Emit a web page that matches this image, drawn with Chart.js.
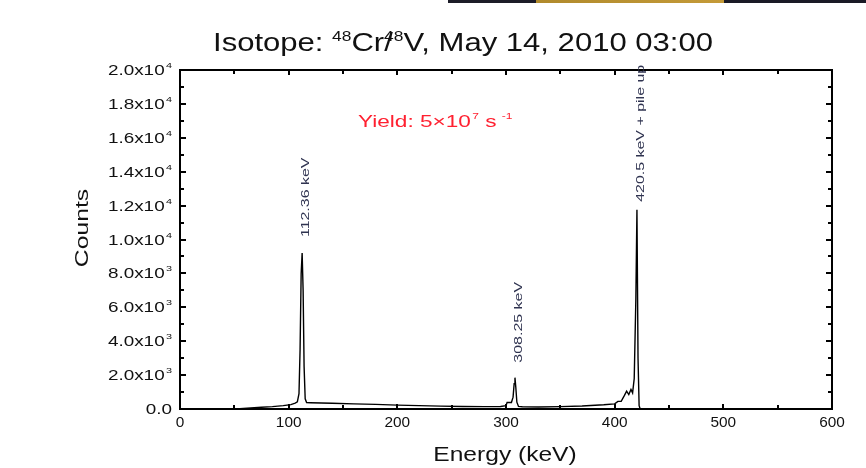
<!DOCTYPE html>
<html>
<head>
<meta charset="utf-8">
<title>48Cr/48V spectrum</title>
<script src="https://cdn.jsdelivr.net/npm/chart.js@4.4.1/dist/chart.umd.min.js"></script>
<style>
  html, body { margin: 0; padding: 0; background: #fff; }
  #wrap { position: relative; width: 866px; height: 468px; }
  #strip {
    position: absolute; left: 448px; top: 0; width: 418px; height: 3px;
    background: linear-gradient(to right, #1c1c28 0, #1c1c28 21%, #b08a2c 21%, #c49a38 66%, #1a1a26 66%);
  }
</style>
</head>
<body>
<div id="wrap">
  <canvas id="spectrum" width="866" height="468"></canvas>
  <div id="strip"></div>
</div>
<script>
// gamma spectrum, energy in keV and counts per channel
var energyKeV = [0, 40, 55, 65, 75, 85, 95, 102, 106, 108, 109.5, 110.5, 111.5, 112.4, 113.3, 114.2, 115.2, 116.5,
  120, 140, 160, 180, 200, 220, 240, 260, 280, 295, 300, 301, 305, 306.5, 307.5, 308.25, 309, 310, 311.5,
  315, 330, 350, 370, 390, 400, 403, 406, 409, 411, 413, 415, 416.5, 418, 419.5, 420.5, 421.5, 422.5, 423.5, 500, 600];
var counts = [0, 0, 20, 60, 100, 140, 200, 260, 350, 420, 900, 3500, 8000, 9200, 7000, 2500, 600, 380,
  370, 340, 300, 270, 230, 200, 170, 150, 140, 150, 200, 380, 380, 700, 1500, 1850, 1300, 400, 150,
  130, 120, 140, 180, 250, 300, 450, 450, 800, 1050, 850, 1150, 950, 1800, 6500, 11750, 3000, 200, 0, 0, 0];

var xTicks = [0, 100, 200, 300, 400, 500, 600];
var yTicks = [0, 2000, 4000, 6000, 8000, 10000, 12000, 14000, 16000, 18000, 20000];
var yTickBase = ['0.0', '2.0x10', '4.0x10', '6.0x10', '8.0x10', '1.0x10', '1.2x10', '1.4x10', '1.6x10', '1.8x10', '2.0x10'];
var yTickExp = ['', '3', '3', '3', '3', '4', '4', '4', '4', '4', '4'];

var peakEnergy = [112.36, 308.25, 420.5];
var peakCounts = [9200, 1850, 11750];
var peakText = ['112.36 keV', '308.25 keV', '420.5 keV + pile up'];

var points = energyKeV.map(function (e, i) { return { x: e, y: counts[i] }; });

var FONT = 'Arial, "Liberation Sans", Helvetica, sans-serif';

// draws a list of [text, size, rise, dx] runs, stretched horizontally by sx
function drawRuns(ctx, runs, x, y, sx, align) {
  var total = 0;
  runs.forEach(function (r) {
    ctx.font = r[1] + 'px ' + FONT;
    total += (ctx.measureText(r[0]).width + (r[3] || 0)) * sx;
  });
  var left = align === 'right' ? x - total : align === 'center' ? x - total / 2 : x;
  ctx.save();
  ctx.translate(left, y);
  ctx.scale(sx, 1);
  ctx.textAlign = 'left';
  var cx = 0;
  runs.forEach(function (r) {
    ctx.font = r[1] + 'px ' + FONT;
    cx += (r[3] || 0);
    ctx.fillText(r[0], cx, -(r[2] || 0));
    cx += ctx.measureText(r[0]).width;
  });
  ctx.restore();
  return total;
}

function runsWidth(ctx, runs) {
  var w = 0;
  runs.forEach(function (r) {
    ctx.font = r[1] + 'px ' + FONT;
    w += ctx.measureText(r[0]).width + (r[3] || 0);
  });
  return w;
}

var frameAndLabels = {
  id: 'frameAndLabels',
  afterDatasetsDraw: function (chart) {
    var ctx = chart.ctx, a = chart.chartArea;
    var xs = chart.scales.x, ys = chart.scales.y;
    ctx.save();
    ctx.fillStyle = '#000';
    ctx.strokeStyle = '#000';
    ctx.textBaseline = 'alphabetic';

    // box
    ctx.lineWidth = 2;
    ctx.strokeRect(a.left, a.top, a.right - a.left, a.bottom - a.top);

    // inward ticks on all four sides
    ctx.lineWidth = 2;
    ctx.beginPath();
    for (var v = 0; v <= 600; v += 50) {
      var px = Math.round(xs.getPixelForValue(v));
      var len = v % 100 === 0 ? 5 : 4;
      ctx.moveTo(px, a.bottom); ctx.lineTo(px, a.bottom - len);
      ctx.moveTo(px, a.top); ctx.lineTo(px, a.top + len);
    }
    for (var c = 0; c <= 20000; c += 1000) {
      var py = Math.round(ys.getPixelForValue(c));
      var l2 = c % 2000 === 0 ? 6 : 4;
      ctx.moveTo(a.left, py); ctx.lineTo(a.left + l2, py);
      ctx.moveTo(a.right, py); ctx.lineTo(a.right - l2, py);
    }
    ctx.stroke();

    // x tick labels
    ctx.fillStyle = '#111';
    xTicks.forEach(function (t) {
      drawRuns(ctx, [[String(t), 14]], xs.getPixelForValue(t), a.bottom + 18, 1.1, 'center');
    });

    // y tick labels with exponents
    yTicks.forEach(function (t, i) {
      var runs = [[yTickBase[i], 14]];
      if (yTickExp[i]) runs.push([yTickExp[i], 8, 7, 1]);
      drawRuns(ctx, runs, a.left - 8, ys.getPixelForValue(t) + 5, 1.35, 'right');
    });

    // axis titles
    drawRuns(ctx, [['Energy (keV)', 21]], 505, 461, 1.17, 'center');
    ctx.save();
    ctx.translate(88, 228);
    ctx.rotate(-Math.PI / 2);
    drawRuns(ctx, [['Counts', 19]], 0, 0, 1.3, 'center');
    ctx.restore();

    // title
    var titleRuns = [['Isotope: ', 25], ['48', 14, 10], ['Cr/', 25], ['48', 14, 10, -7], ['V, May 14, 2010 03:00', 25]];
    var tw = runsWidth(ctx, titleRuns);
    drawRuns(ctx, titleRuns, 213, 51, 500 / tw, 'left');

    // yield annotation
    ctx.fillStyle = '#ff2030';
    drawRuns(ctx, [['Yield: 5\u00d710', 17], ['7', 9, 8, 1], [' s', 17], ['-1', 9, 8, 4]], 358, 127, 1.33, 'left');

    // peak labels
    ctx.fillStyle = '#2f3350';
    var gaps = [16, 15, 8];
    peakEnergy.forEach(function (e, i) {
      var px = xs.getPixelForValue(e) + 4;
      var py = ys.getPixelForValue(peakCounts[i]) - gaps[i];
      ctx.save();
      ctx.translate(px, py);
      ctx.rotate(-Math.PI / 2);
      ctx.textBaseline = 'middle';
      drawRuns(ctx, [[peakText[i], 11]], 0, 0, 1.45, 'left');
      ctx.restore();
    });

    ctx.restore();
  }
};

new Chart(document.getElementById('spectrum').getContext('2d'), {
  type: 'line',
  data: {
    datasets: [{
      data: points,
      borderColor: '#000',
      borderWidth: 1.4,
      pointRadius: 0,
      tension: 0,
      fill: false
    }]
  },
  options: {
    responsive: false,
    animation: false,
    devicePixelRatio: 1,
    layout: { padding: { left: 180, right: 34, top: 70, bottom: 59 } },
    plugins: { legend: { display: false }, tooltip: { enabled: false } },
    scales: {
      x: { type: 'linear', min: 0, max: 600, display: false },
      y: { type: 'linear', min: 0, max: 20000, display: false }
    }
  },
  plugins: [frameAndLabels]
});
</script>
</body>
</html>
